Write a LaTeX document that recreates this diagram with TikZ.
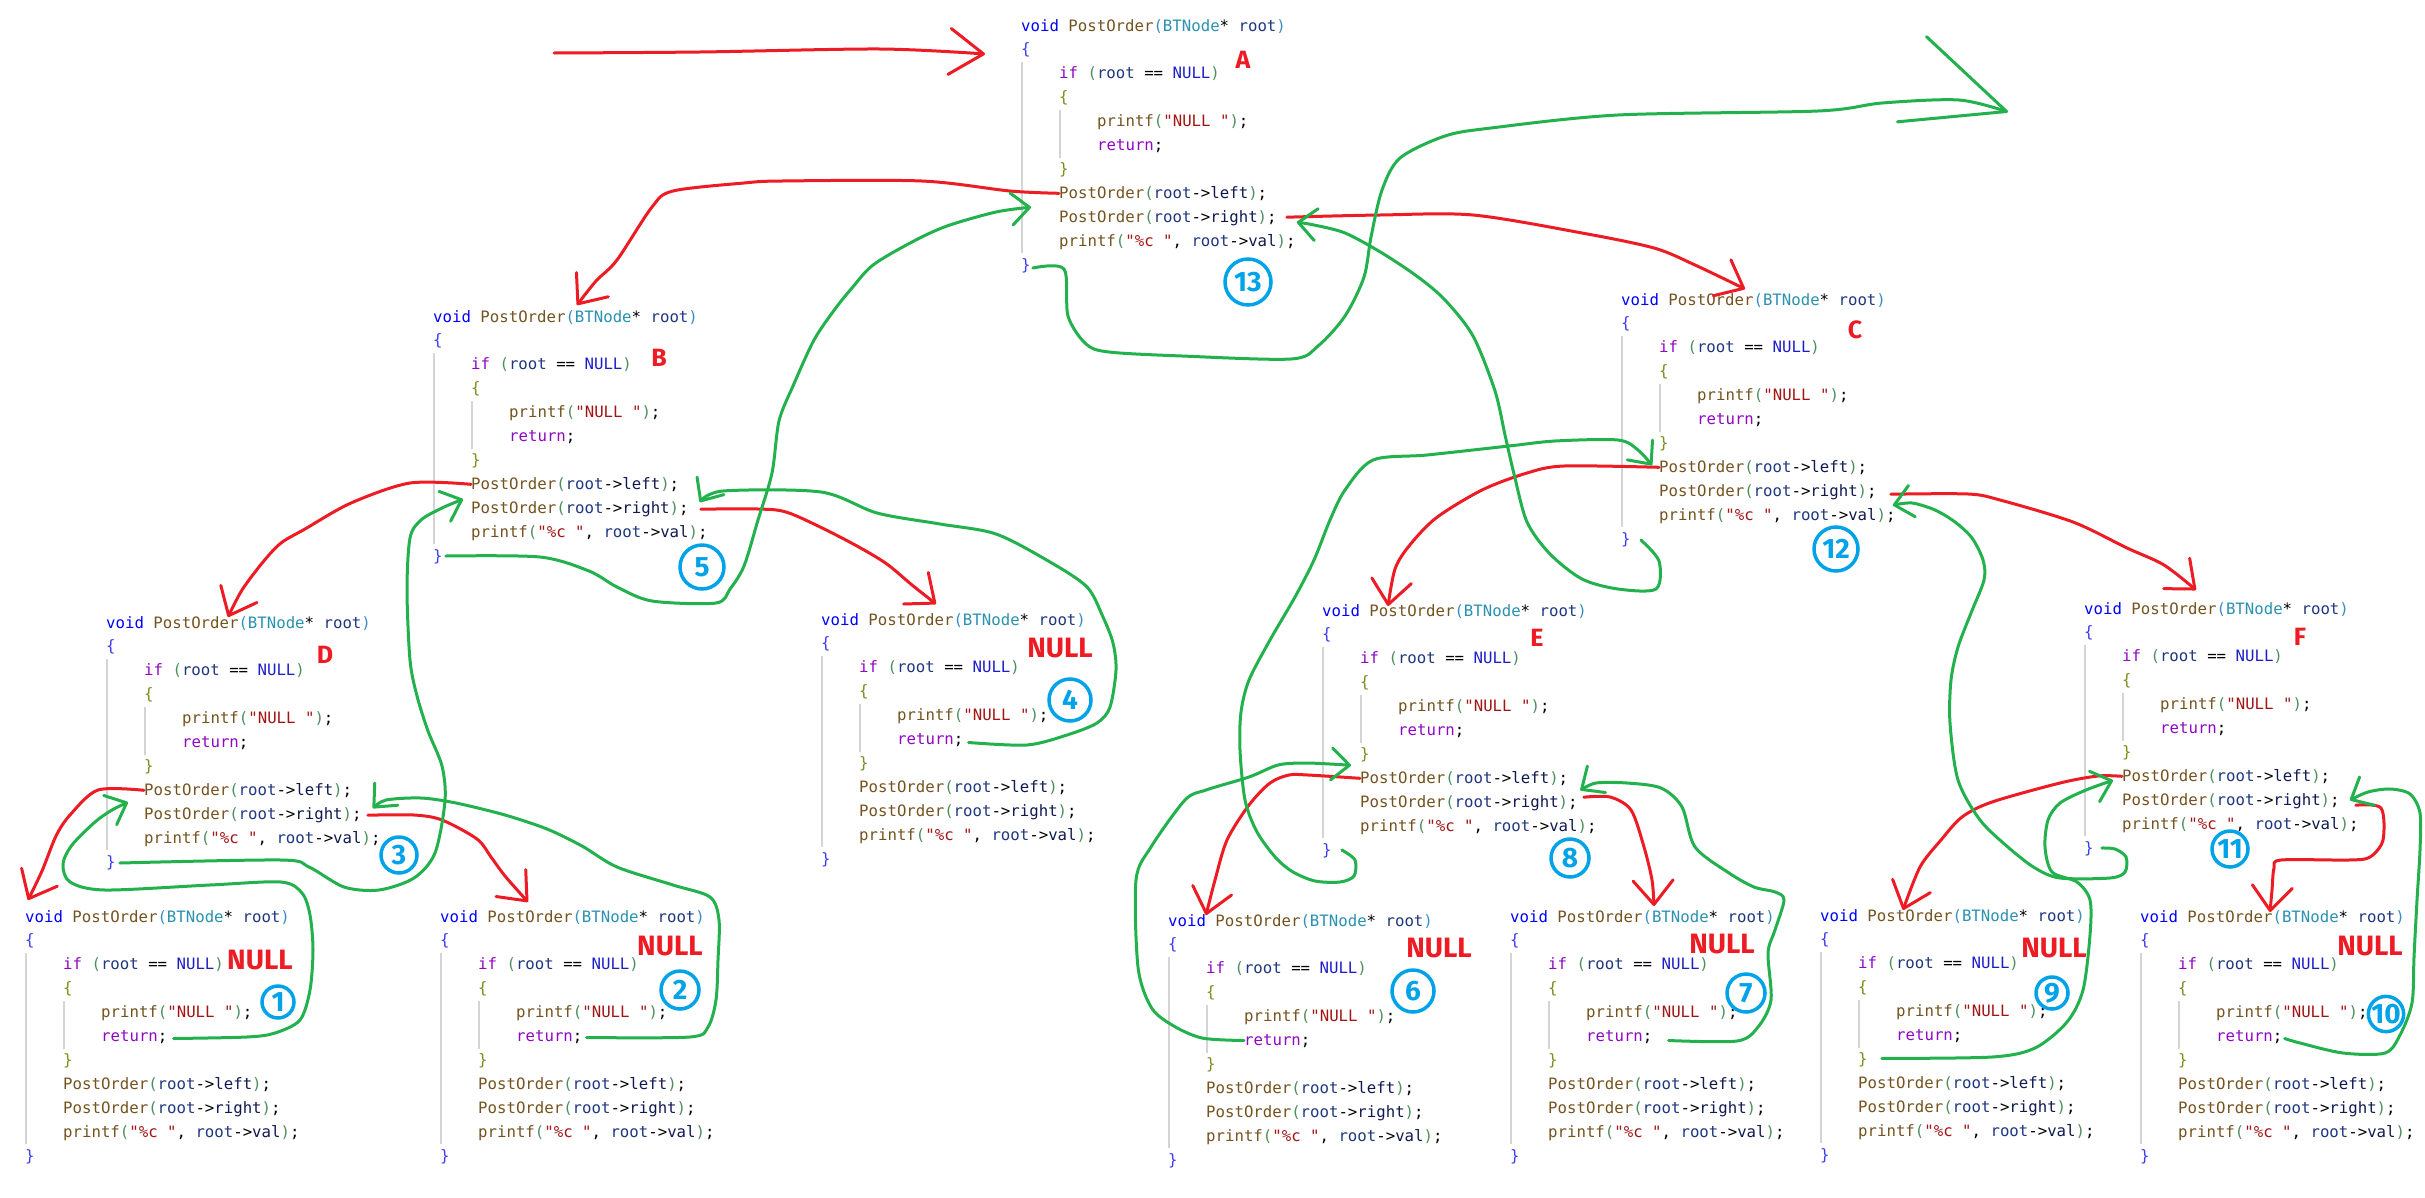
\documentclass[tikz,border=0pt]{standalone}
\usepackage{fontspec}
\newfontfamily\codefont{DejaVu Sans Mono}
\newfontfamily\penfont{Fira Sans}
\usetikzlibrary{arrows.meta,calc}

\definecolor{vsblue}{HTML}{0000FF}
\definecolor{vsfunc}{HTML}{74531F}
\definecolor{vstype}{HTML}{2B91AF}
\definecolor{vsvar}{HTML}{1F377F}
\definecolor{vsmember}{HTML}{101A50}
\definecolor{vsctrl}{HTML}{8F08C4}
\definecolor{vsmacro}{HTML}{1E1EC8}
\definecolor{vsstring}{HTML}{A31515}
\definecolor{vsparen}{HTML}{4E8F5E}
\definecolor{vshead}{HTML}{3A8FC0}
\definecolor{vsbrace}{HTML}{3C3CF0}
\definecolor{vsinner}{HTML}{7F8B1A}
\definecolor{penred}{HTML}{ED1C24}
\definecolor{pengreen}{HTML}{22B14C}
\definecolor{penblue}{HTML}{00A2E8}

\newcommand\ckw[1]{\textcolor{vsblue}{#1}}
\newcommand\cfn[1]{\textcolor{vsfunc}{#1}}
\newcommand\cty[1]{\textcolor{vstype}{#1}}
\newcommand\cvar[1]{\textcolor{vsvar}{#1}}
\newcommand\cmem[1]{\textcolor{vsmember}{#1}}
\newcommand\cctl[1]{\textcolor{vsctrl}{#1}}
\newcommand\cmac[1]{\textcolor{vsmacro}{#1}}
\newcommand\cstr[1]{\textcolor{vsstring}{#1}}
\newcommand\cpar[1]{\textcolor{vsparen}{#1}}
\newcommand\chead[1]{\textcolor{vshead}{#1}}
\newcommand\cbro[1]{\textcolor{vsbrace}{#1}}
\newcommand\cbri[1]{\textcolor{vsinner}{#1}}

\tikzset{
	codeln/.style={anchor=west, inner sep=0pt, text height=10pt, text depth=0pt,
		font=\codefont\fontsize{15.7}{18}\selectfont},
	guide/.style={draw=black!17, line width=1.3pt},
	redpen/.style={draw=penred, line width=3pt, line cap=round, line join=round,
		-{Straight Barb[length=24pt,width=40pt,round]}},
	greenpen/.style={draw=pengreen, line width=3pt, line cap=round, line join=round,
		-{Straight Barb[length=18pt,width=32pt,round]}},
	nodeletter/.style={text=penred, inner sep=0pt, font=\penfont\bfseries\fontsize{25}{25}\selectfont},
	nulltag/.style={text=penred, inner sep=0pt, font=\penfont\bfseries\fontsize{28}{28}\selectfont},
	stepmark/.style={circle, draw=penblue, line width=3.5pt, text=penblue, inner sep=0pt,
		minimum size=#1, font=\penfont\bfseries\fontsize{28}{28}\selectfont}
}

% one call frame of PostOrder, lines named <name>-0 ... <name>-10
\newcommand\codeblock[3]{%
	\coordinate (#1) at (#2,#3);
	\begin{scope}[shift={(#1)}]
		\draw[guide] (1,36) -- (1,227);
		\draw[guide] (39,84) -- (39,132);
		\node[codeln] (#1-0) at (0,0) {\ckw{void} \cfn{PostOrder}\chead{(}\cty{BTNode}* \cvar{root}\chead{)}};
		\node[codeln] (#1-1) at (0,23.9) {\cbro{\{}};
		\node[codeln] (#1-2) at (38,47.8) {\cctl{if} \cpar{(}\cvar{root} == \cmac{NULL}\cpar{)}};
		\node[codeln] (#1-3) at (38,71.7) {\cbri{\{}};
		\node[codeln] (#1-4) at (76,95.6) {\cfn{printf}\cpar{(}\cstr{"NULL "}\cpar{)};};
		\node[codeln] (#1-5) at (76,119.5) {\cctl{return};};
		\node[codeln] (#1-6) at (38,143.4) {\cbri{\}}};
		\node[codeln] (#1-7) at (38,167.3) {\cfn{PostOrder}\cpar{(}\cvar{root}->\cmem{left}\cpar{)};};
		\node[codeln] (#1-8) at (38,191.2) {\cfn{PostOrder}\cpar{(}\cvar{root}->\cmem{right}\cpar{)};};
		\node[codeln] (#1-9) at (38,215.1) {\cfn{printf}\cpar{(}\cstr{"\%c "}, \cvar{root}->\cmem{val}\cpar{)};};
		\node[codeln] (#1-10) at (0,239) {\cbro{\}}};
	\end{scope}}

\begin{document}
\begin{tikzpicture}[x=1pt,y=-1pt]
	\useasboundingbox (0,0) rectangle (2425,1197);
	\fill[white] (0,0) rectangle (2425,1197);

	\codeblock{A}{1021}{26}
	\codeblock{B}{433}{317}
	\codeblock{C}{1621}{300}
	\codeblock{D}{106}{623}
	\codeblock{E}{1322}{611}
	\codeblock{F}{2084}{609}
	\codeblock{DL}{25}{917}
	\codeblock{DR}{440}{917}
	\codeblock{BR}{821}{620}
	\codeblock{EL}{1168}{921}
	\codeblock{ER}{1510}{917}
	\codeblock{FL}{1820}{916}
	\codeblock{FR}{2140}{917}

	\node[nodeletter] (labA) at (1243,60) {A};
	\node[nodeletter] (labB) at (659,358) {B};
	\node[nodeletter] (labC) at (1855,330) {C};
	\node[nodeletter] (labD) at (325,655) {D};
	\node[nodeletter] (labE) at (1537,638) {E};
	\node[nodeletter] (labF) at (2300,637) {F};

	\node[nulltag] (nullDL) at (260,960) {NULL};
	\node[nulltag] (nullDR) at (670,946) {NULL};
	\node[nulltag] (nullBR) at (1060,648) {NULL};
	\node[nulltag] (nullEL) at (1439,948) {NULL};
	\node[nulltag] (nullER) at (1722,944) {NULL};
	\node[nulltag] (nullFL) at (2054,948) {NULL};
	\node[nulltag] (nullFR) at (2370,946) {NULL};

	% calls
	\coordinate (entry) at (554,53);
	\draw[redpen, -{Straight Barb[length=34pt,width=46pt,round]}] plot[smooth] coordinates {(entry) (700,52) (880,49) ($(A-0.west)+(-36,28)$)};
	\draw[redpen] plot[smooth] coordinates {(A-7.west) (1010,191) (922,181) (782,181) (744,183) (673,191) (652,207) (617,260) (596,281) ($(B-0.west)+(144,-12)$)};
	\draw[redpen] plot[smooth] coordinates {($(A-8.east)+(10,0)$) (1380,215) (1473,215) (1582,233) (1654,248) (1695,265) ($(C-0.west)+(124,-11)$)};
	\draw[redpen] plot[smooth] coordinates {(B-7.west) (410,483) (351,503) (305,529) (281,543) (263,562) (242,590) ($(D-0.west)+(122,-6)$)};
	\draw[redpen] plot[smooth] coordinates {($(B-8.east)+(12,1)$) (758,509) (789,513) (842,538) (884,562) (912,585) ($(BR-0.west)+(115,-16)$)};
	\draw[redpen] plot[smooth] coordinates {(D-7.west) (98,790) (70,815) (56,836) (42,871) ($(DL-0.west)+(3,-17)$)};
	\draw[redpen] plot[smooth] coordinates {($(D-8.east)+(6,1)$) (414,815) (442,820) (477,839) (491,857) (505,876) ($(DR-0.west)+(88,-15)$)};
	\draw[redpen] plot[smooth] coordinates {(C-7.west) (1564,466) (1527,473) (1482,490) (1436,518) (1409,546) (1395,569) ($(E-0.west)+(66,-5)$)};
	\draw[redpen] plot[smooth] coordinates {($(C-8.east)+(14,3)$) (1968,494) (2000,500) (2073,522) (2127,548) (2164,565) ($(F-0.west)+(112,-19)$)};
	\draw[redpen] plot[smooth] coordinates {(E-7.west) (1308,775) (1289,775) (1270,783) (1249,805) (1227,840) (1215,880) ($(EL-0.west)+(38,-6)$)};
	\draw[redpen] plot[smooth] coordinates {($(E-8.east)+(6,-5)$) (1610,797) (1631,810) (1644,847) (1652,880) ($(ER-0.west)+(144,-11)$)};
	\draw[redpen] plot[smooth] coordinates {(F-7.west) (2098,776) (2060,783) (1992,802) (1962,817) (1941,840) (1920,867) ($(FL-0.west)+(83,-6)$)};
	\draw[redpen] plot[smooth] coordinates {($(F-8.east)+(16,5)$) (2381,808) (2383,840) (2370,857) (2349,860) (2281,860) (2274,868) (2272,890) ($(FR-0.west)+(130,-5)$)};

	% returns
	\draw[greenpen] plot[smooth] coordinates {($(DL-5.east)+(6,2)$) (247,1037) (275,1033) (300,1020) (310,990) (313,950) (310,915) (302,893) (281,882) (210,885) (105,890) (70,882) (63,864) (72,845) (95,822) (112,810) ($(D-8.west)+(-16,-12)$)};
	\draw[greenpen] plot[smooth] coordinates {($(DR-5.east)+(4,1)$) (690,1037) (708,1027) (716,1000) (718,960) (719,920) (710,897) (673,885) (617,867) (582,846) (547,829) (505,815) (456,803) (421,798) (386,800) ($(D-8.east)+(11,-6)$)};
	\draw[greenpen] plot[smooth] coordinates {($(D-10.east)+(4,1)$) (281,860) (309,867) (344,887) (379,890) (414,878) (435,853) (445,801) (442,766) (428,731) (417,696) (410,660) (407,590) (410,538) (421,520) (442,508) ($(B-8.west)+(-8,-9)$)};
	\draw[greenpen] plot[smooth] coordinates {($(BR-5.east)+(5,3)$) (1027,745) (1067,735) (1097,723) (1110,707) (1116,670) (1113,643) (1103,617) (1087,587) (1050,562) (996,534) (940,524) (877,513) (821,492) (723,491) ($(B-8.east)+(11,-6)$)};
	\draw[greenpen] plot[smooth] coordinates {($(B-10.east)+(3,0)$) (540,557) (589,571) (617,587) (652,601) (716,603) (730,589) (744,566) (758,520) (772,473) (779,421) (793,386) (814,340) (835,309) (852,288) (873,265) (912,242) (947,226) (996,212) ($(A-8.west)+(-28,-10)$)};
	\draw[greenpen] plot[smooth] coordinates {(EL-5.west) (1202,1038) (1172,1025) (1151,1007) (1138,967) (1136,880) (1151,847) (1185,800) (1206,790) (1249,777) (1278,765) (1304,763) (1330,764) ($(E-7.west)+(-9,-13)$)};
	\draw[greenpen] plot[smooth] coordinates {($(ER-5.east)+(16,4)$) (1737,1041) (1758,1027) (1771,1000) (1768,953) (1775,930) (1784,900) (1775,892) (1754,887) (1729,873) (1695,847) (1682,807) (1661,788) (1627,783) (1596,783) ($(E-7.east)+(12,12)$)};
	\draw[greenpen] plot[smooth] coordinates {($(E-10.east)+(10,0)$) (1355,860) (1354,876) (1340,882) (1315,881) (1293,872) (1276,858) (1257,832) (1245,800) (1240,750) (1241,712) (1249,680) (1270,640) (1295,597) (1314,560) (1330,520) (1345,490) (1373,460) (1427,455) (1509,446) (1555,441) (1618,440) (1638,450) ($(C-7.west)+(-7,-2)$)};
	\draw[greenpen] plot[smooth] coordinates {($(FL-6.east)+(14,-1)$) (1992,1057) (2035,1048) (2067,1022) (2083,990) (2090,935) (2090,900) (2077,882) (2052,872) (2045,847) (2048,820) (2060,803) (2086,790) ($(F-7.west)+(-9,4)$)};
	\draw[greenpen] plot[smooth] coordinates {($(FR-5.east)+(2,2)$) (2300,1043) (2343,1053) (2385,1053) (2400,1035) (2412,1003) (2414,957) (2417,900) (2420,850) (2420,813) (2410,794) (2390,789) (2368,792) ($(F-8.east)+(10,0)$)};
	\draw[greenpen] plot[smooth] coordinates {($(F-10.east)+(8,0)$) (2115,849) (2126,857) (2125,872) (2110,878) (2060,878) (2035,868) (2009,848) (1980,820) (1958,780) (1950,723) (1951,680) (1958,647) (1971,613) (1984,580) (1983,560) (1972,538) (1955,522) (1935,510) (1912,503) ($(C-8.east)+(16,14)$)};
	\draw[greenpen] plot[smooth] coordinates {($(C-10.east)+(10,1)$) (1659,561) (1656,589) (1618,589) (1582,579) (1550,554) (1527,522) (1514,474) (1505,435) (1495,391) (1473,336) (1445,300) (1418,277) (1382,253) (1345,233) (1314,225) ($(A-8.east)+(20,5)$)};
	\coordinate (exit) at (2008,112);
	\draw[greenpen, -{Straight Barb[length=100pt,width=90pt,round]}] plot[smooth] coordinates {($(A-10.east)+(2,3)$) (1064,269) (1068,316) (1086,344) (1109,352) (1182,356) (1291,359) (1318,346) (1345,316) (1364,277) (1371,237) (1382,190) (1400,158) (1445,136) (1491,128) (1618,115) (1818,111) (1882,103) (1959,100) (exit)};

	% order of the prints
	\node[stepmark=32pt] (s1) at (278,1002) {1};
	\node[stepmark=38pt] (s2) at (680,990) {2};
	\node[stepmark=36pt] (s3) at (399,855) {3};
	\node[stepmark=42pt] (s4) at (1070,700) {4};
	\node[stepmark=44pt] (s5) at (702,567) {5};
	\node[stepmark=42pt] (s6) at (1413,991) {6};
	\node[stepmark=38pt] (s7) at (1746,993) {7};
	\node[stepmark=38pt] (s8) at (1570,858) {8};
	\node[stepmark=32pt] (s9) at (2052,993) {9};
	\node[stepmark=34pt] (s10) at (2386,1014) {10};
	\node[stepmark=36pt] (s11) at (2230,849) {11};
	\node[stepmark=44pt] (s12) at (1836,549) {12};
	\node[stepmark=46pt] (s13) at (1248,282) {13};
\end{tikzpicture}
\end{document}
